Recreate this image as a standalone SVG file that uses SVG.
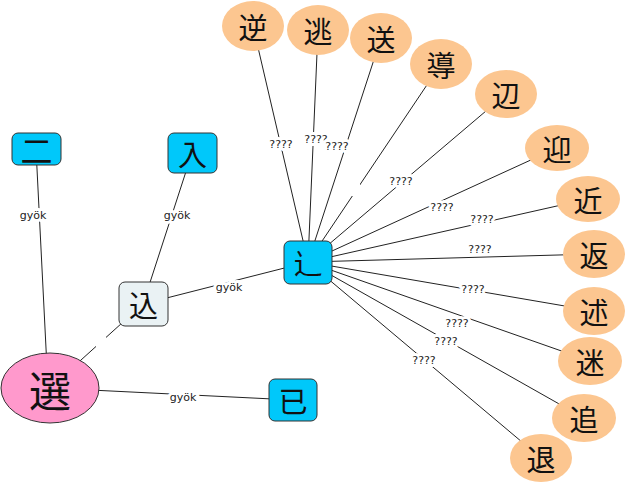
<svg xmlns="http://www.w3.org/2000/svg" width="631" height="487" viewBox="0 0 631 487">
<style>
.e{stroke:#222;stroke-width:1;fill:none}
.lb{font-family:"DejaVu Sans",sans-serif;font-size:11px;fill:#222;text-anchor:middle;dominant-baseline:central;stroke:#fff;stroke-width:6px;paint-order:stroke;stroke-linejoin:round}
.bx{fill:#00c8fa;stroke:#333;stroke-width:1}
.or{fill:#fcc690;stroke:none}
.t{font-family:"Noto Sans CJK JP","Noto Sans CJK SC",sans-serif;font-size:29px;fill:#111;text-anchor:middle;dominant-baseline:central}
</style>
<rect width="631" height="487" fill="#fff"/>
<g id="edges">
<line class="e" x1="36" y1="149" x2="48" y2="388"/>
<line class="e" x1="192" y1="153" x2="143" y2="304"/>
<line class="e" x1="143" y1="304" x2="308" y2="262"/>
<line class="e" x1="50" y1="388" x2="143" y2="304"/>
<line class="e" x1="50" y1="388" x2="293" y2="400"/>
<line class="e" x1="253" y1="26" x2="308" y2="262"/>
<line class="e" x1="318" y1="30" x2="308" y2="262"/>
<line class="e" x1="381" y1="38" x2="308" y2="262"/>
<line class="e" x1="441" y1="64" x2="308" y2="262"/>
<line class="e" x1="506" y1="94" x2="308" y2="262"/>
<line class="e" x1="557" y1="148" x2="308" y2="262"/>
<line class="e" x1="588" y1="199" x2="308" y2="262"/>
<line class="e" x1="594" y1="254" x2="308" y2="262"/>
<line class="e" x1="594" y1="311" x2="308" y2="262"/>
<line class="e" x1="590" y1="361" x2="308" y2="262"/>
<line class="e" x1="584" y1="418" x2="308" y2="262"/>
<line class="e" x1="541" y1="458" x2="308" y2="262"/>
<rect x="350" y="182" width="10" height="14" fill="#fff"/>
<rect x="96" y="334" width="10" height="14" fill="#fff"/>
<text class="lb" x="33" y="215">gyök</text>
<text class="lb" x="177" y="215">gyök</text>
<text class="lb" x="229" y="287">gyök</text>
<text class="lb" x="183" y="397">gyök</text>
<text class="lb" x="281" y="144">????</text>
<text class="lb" x="316" y="139">????</text>
<text class="lb" x="337" y="146">????</text>
<text class="lb" x="401" y="181">????</text>
<text class="lb" x="442" y="207">????</text>
<text class="lb" x="482" y="219">????</text>
<text class="lb" x="480" y="249">????</text>
<text class="lb" x="473" y="289">????</text>
<text class="lb" x="457" y="323">????</text>
<text class="lb" x="446" y="341">????</text>
<text class="lb" x="424" y="360">????</text>
</g>
<g id="n-ni"><rect class="bx" x="12" y="133" width="49" height="32" rx="6"/><text class="t" x="36.5" y="149" style="font-size:32px">二</text></g>
<g id="n-iri"><rect class="bx" x="168" y="133" width="49" height="40" rx="6"/><text class="t" x="192.5" y="153">入</text></g>
<g id="n-komu"><rect x="119" y="282" width="49" height="44" rx="6" fill="#eaf2f4" stroke="#333"/><text class="t" x="143.5" y="304">込</text></g>
<g id="n-shinnyou"><rect class="bx" x="284" y="241" width="48" height="43" rx="6"/><text class="t" x="308" y="262" style="font-family:'Noto Sans CJK SC',sans-serif">辶</text></g>
<g id="n-sen"><ellipse cx="50" cy="388" rx="49" ry="35" fill="#ff99cc" stroke="#333"/><text class="t" x="50" y="388" style="font-size:42px">選</text></g>
<g id="n-ki"><rect class="bx" x="269" y="379" width="48" height="42" rx="6"/><text class="t" x="293" y="400">已</text></g>
<g id="n-gyaku"><ellipse class="or" cx="253" cy="26" rx="31" ry="25"/><text class="t" x="253" y="26">逆</text></g>
<g id="n-tou"><ellipse class="or" cx="318" cy="30" rx="31" ry="25"/><text class="t" x="318" y="30">逃</text></g>
<g id="n-sou"><ellipse class="or" cx="381" cy="38" rx="31" ry="25"/><text class="t" x="381" y="38">送</text></g>
<g id="n-dou"><ellipse class="or" cx="441" cy="64" rx="31" ry="25"/><text class="t" x="441" y="64">導</text></g>
<g id="n-hen"><ellipse class="or" cx="506" cy="94" rx="31" ry="24"/><text class="t" x="506" y="94">辺</text></g>
<g id="n-gei"><ellipse class="or" cx="557" cy="148" rx="32" ry="23"/><text class="t" x="557" y="148">迎</text></g>
<g id="n-kin"><ellipse class="or" cx="588" cy="199" rx="32" ry="23"/><text class="t" x="588" y="199">近</text></g>
<g id="n-hen2"><ellipse class="or" cx="594" cy="254" rx="31" ry="24"/><text class="t" x="594" y="254">返</text></g>
<g id="n-jutsu"><ellipse class="or" cx="594" cy="311" rx="31" ry="24"/><text class="t" x="594" y="311">述</text></g>
<g id="n-mei"><ellipse class="or" cx="590" cy="361" rx="32" ry="24"/><text class="t" x="590" y="361">迷</text></g>
<g id="n-tsui"><ellipse class="or" cx="584" cy="418" rx="32" ry="24"/><text class="t" x="584" y="418">追</text></g>
<g id="n-tai"><ellipse class="or" cx="541" cy="458" rx="31" ry="24"/><text class="t" x="541" y="458">退</text></g>
</svg>
